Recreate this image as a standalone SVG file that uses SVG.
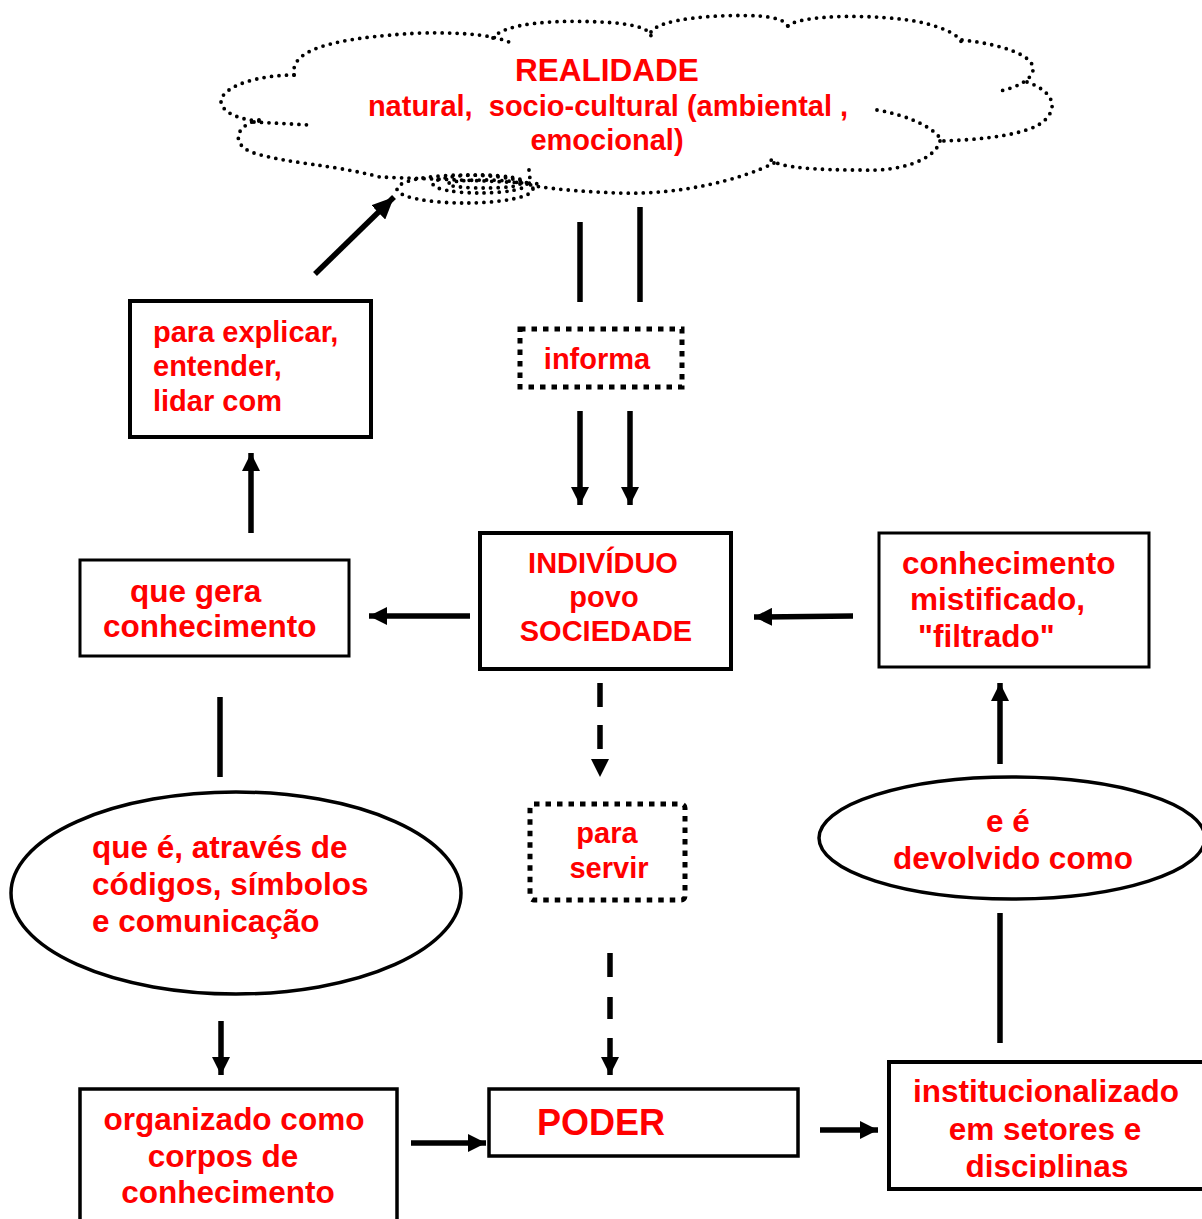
<svg xmlns="http://www.w3.org/2000/svg" width="1202" height="1219" viewBox="0 0 1202 1219">
<style>
.t{font-family:"Liberation Sans",Arial,sans-serif;font-weight:bold;fill:#ff0000;}
.s29{font-size:29px;}
.s32{font-size:31.5px;}
.box{fill:#fff;stroke:#000;}
.dots{fill:none;stroke:#000;stroke-width:3.8;stroke-dasharray:0 7.5;stroke-linecap:round;}
.sq{fill:none;stroke:#000;stroke-width:5;stroke-dasharray:5.5 6;}
.ln{stroke:#000;stroke-width:5.5;fill:none;}
</style>
<defs>
<marker id="ah" viewBox="0 0 22 20" refX="22" refY="10" markerWidth="22" markerHeight="20" markerUnits="userSpaceOnUse" orient="auto">
<path d="M0,0 L22,10 L0,20 z" fill="#000"/>
</marker>
<marker id="ahs" viewBox="0 0 18 18" refX="18" refY="9" markerWidth="18" markerHeight="18" markerUnits="userSpaceOnUse" orient="auto">
<path d="M0,0 L18,9 L0,18 z" fill="#000"/>
</marker>
<clipPath id="clipInst"><rect x="889" y="1062" width="313" height="116"/></clipPath>
</defs>
<rect width="1202" height="1219" fill="#fff"/>

<g id="realidade">
<path class="dots" d="M294,75 C290,50 330,38 420,33 C470,32 500,36 515,45"/>
<path class="dots" d="M493,38 C505,22 560,20 600,22 C630,23 650,28 651,36"/>
<path class="dots" d="M651,32 C660,18 720,14 760,16 C780,18 790,22 788,31"/>
<path class="dots" d="M788,26 C800,14 880,14 920,22 C945,28 960,35 962,44"/>
<path class="dots" d="M962,40 C1000,44 1035,55 1033,70 C1032,80 1015,88 1000,91"/>
<path class="dots" d="M1027,82 C1050,90 1060,105 1045,120 C1030,135 980,140 940,141"/>
<path class="dots" d="M877,110 C905,115 930,125 940,138"/>
<path class="dots" d="M940,141 C935,160 900,172 860,170 C820,170 780,168 771,160"/>
<path class="dots" d="M774,163 C740,180 680,195 619,193 C590,192 560,190 535,186"/>
<path class="dots" d="M294,75 C260,75 225,85 221,100 C220,112 240,120 259,121"/>
<path class="dots" d="M254,122 L310,125"/>
<path class="dots" d="M259,120 C235,125 230,145 254,153 C290,164 330,164 380,177 C430,179 500,181 540,184"/>
<path class="dots" d="M529,170 L531,188"/>
<ellipse class="dots" cx="465" cy="189" rx="68" ry="14"/>
<ellipse class="dots" cx="480" cy="184" rx="47" ry="9"/>
<ellipse class="dots" cx="484" cy="184" rx="36" ry="4"/>
<text class="t" x="607" y="81" font-size="31.5" text-anchor="middle">REALIDADE</text>
<text class="t s29" x="608" y="116" text-anchor="middle" xml:space="preserve">natural,  socio-cultural (ambiental ,</text>
<text class="t s29" x="607" y="150" text-anchor="middle">emocional)</text>
</g>

<g id="explicar">
<rect class="box" x="130" y="301" width="241" height="136" stroke-width="4"/>
<text class="t s29" x="153" y="342">para explicar,</text>
<text class="t s29" x="153" y="376">entender,</text>
<text class="t s29" x="153" y="411">lidar com</text>
</g>

<g id="informa">
<rect class="sq" x="520" y="329" width="162" height="58"/>
<text class="t s29" x="597" y="369" text-anchor="middle">informa</text>
</g>

<g id="individuo">
<rect class="box" x="480" y="533" width="251" height="136" stroke-width="4"/>
<text class="t s29" x="603" y="573" text-anchor="middle">INDIVÍDUO</text>
<text class="t s29" x="604" y="607" text-anchor="middle">povo</text>
<text class="t s29" x="606" y="641" text-anchor="middle">SOCIEDADE</text>
</g>

<g id="quegera">
<rect class="box" x="80" y="560" width="269" height="96" stroke-width="3"/>
<text class="t s32" x="130" y="602">que gera</text>
<text class="t s32" x="103" y="637">conhecimento</text>
</g>

<g id="mistificado">
<rect class="box" x="879" y="533" width="270" height="134" stroke-width="3"/>
<text class="t s32" x="902" y="574">conhecimento</text>
<text class="t s32" x="910" y="610">mistificado,</text>
<text class="t s32" x="918" y="647">"filtrado"</text>
</g>

<g id="devolvido">
<ellipse class="box" cx="1012" cy="838" rx="193" ry="61" stroke-width="3.5"/>
<text class="t s32" x="1008" y="832" text-anchor="middle">e é</text>
<text class="t s32" x="1013" y="869" text-anchor="middle">devolvido como</text>
</g>

<g id="codigos">
<ellipse class="box" cx="236" cy="893" rx="225" ry="101" stroke-width="3.5"/>
<text class="t s32" x="92" y="858">que é, através de</text>
<text class="t s32" x="92" y="895">códigos, símbolos</text>
<text class="t s32" x="92" y="932">e comunicação</text>
</g>

<g id="servir">
<rect class="sq" x="530" y="804" width="155" height="96" rx="4"/>
<text class="t s29" x="607" y="843" text-anchor="middle">para</text>
<text class="t s29" x="609" y="878" text-anchor="middle">servir</text>
</g>

<g id="organizado">
<rect class="box" x="80" y="1089" width="317" height="140" stroke-width="3.5"/>
<text class="t s32" x="234" y="1130" text-anchor="middle">organizado como</text>
<text class="t s32" x="223" y="1167" text-anchor="middle">corpos de</text>
<text class="t s32" x="228" y="1203" text-anchor="middle">conhecimento</text>
</g>

<g id="poder">
<rect class="box" x="489" y="1089" width="309" height="67" stroke-width="3.5"/>
<text class="t" x="537" y="1135" font-size="36">PODER</text>
</g>

<g id="institucionalizado">
<rect class="box" x="889" y="1062" width="316" height="127" stroke-width="4"/>
<g clip-path="url(#clipInst)">
<text class="t s32" x="1046" y="1102" text-anchor="middle">institucionalizado</text>
<text class="t s32" x="1045" y="1140" text-anchor="middle">em setores e</text>
<text class="t s32" x="1047" y="1177" text-anchor="middle">disciplinas</text>
</g>
</g>

<g id="connectors">
<line class="ln" x1="315" y1="274" x2="394" y2="197" marker-end="url(#ah)"/>
<line class="ln" x1="580" y1="222" x2="580" y2="302"/>
<line class="ln" x1="640" y1="207" x2="640" y2="302"/>
<line class="ln" x1="580" y1="411" x2="580" y2="505" marker-end="url(#ahs)"/>
<line class="ln" x1="630" y1="411" x2="630" y2="505" marker-end="url(#ahs)"/>
<line class="ln" x1="470" y1="616" x2="369" y2="616" marker-end="url(#ahs)"/>
<line class="ln" x1="251" y1="533" x2="251" y2="453" marker-end="url(#ahs)"/>
<line class="ln" x1="853" y1="616" x2="754" y2="617" marker-end="url(#ahs)"/>
<line class="ln" x1="1000" y1="764" x2="1000" y2="683" marker-end="url(#ahs)"/>
<line class="ln" x1="1000" y1="913" x2="1000" y2="1043"/>
<line class="ln" x1="220" y1="697" x2="220" y2="777"/>
<line class="ln" x1="221" y1="1021" x2="221" y2="1075" marker-end="url(#ahs)"/>
<line class="ln" x1="411" y1="1143" x2="486" y2="1143" marker-end="url(#ahs)"/>
<line class="ln" x1="820" y1="1130" x2="878" y2="1130" marker-end="url(#ahs)"/>
<line class="ln" x1="600" y1="683" x2="600" y2="749" stroke-dasharray="24 18"/>
<path d="M591,759 L609,759 L600,777 z" fill="#000"/>
<line class="ln" x1="610" y1="953" x2="610" y2="1019" stroke-dasharray="24 20"/>
<line class="ln" x1="610" y1="1038" x2="610" y2="1075" marker-end="url(#ahs)"/>
</g>
</svg>
